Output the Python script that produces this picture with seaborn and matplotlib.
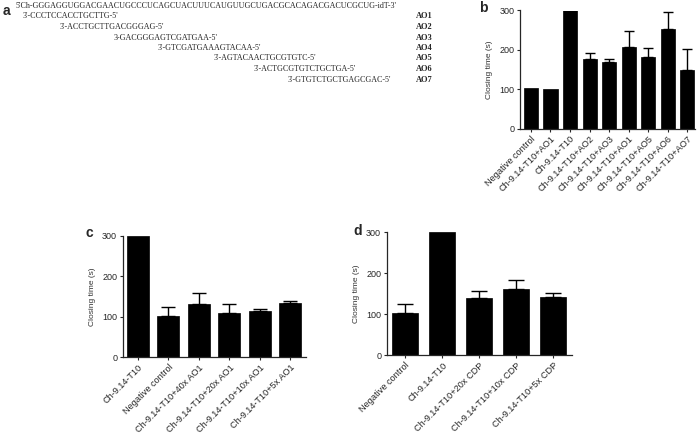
import numpy as np
import pandas as pd
import seaborn as sns
import matplotlib.pyplot as plt

# ---- data ----
seq_target = "5'Ch-GGGAGGUGGACGAACUGCCCUCAGCUACUUUCAUGUUGCUGACGCACAGACGACUCGCUG-idT-3'"
seq_probes = ["3'-CCCTCCACCTGCTTG-5'",
              "3'-ACCTGCTTGACGGGAG-5'",
              "3-GACGGGAGTCGATGAA-5'",
              "3'-GTCGATGAAAGTACAA-5'",
              "3'-AGTACAACTGCGTGTC-5'",
              "3'-ACTGCGTGTCTGCTGA-5'",
              "3'-GTGTCTGCTGAGCGAC-5'"]
probe_names = ["AO1", "AO2", "AO3", "AO4", "AO5", "AO6", "AO7"]

b_labels = ["Negative control", "Ch-9.14-T10+AO1", "Ch-9.14-T10", "Ch-9.14-T10+AO2",
            "Ch-9.14-T10+AO3", "Ch-9.14-T10+AO1", "Ch-9.14-T10+AO5",
            "Ch-9.14-T10+AO6", "Ch-9.14-T10+AO7"]
b_mean = [102, 100, 300, 177, 168, 208, 183, 254, 148]
b_upper = [102, 100, 300, 192, 177, 247, 204, 295, 202]

c_labels = ["Ch-9.14-T10", "Negative control", "Ch-9.14-T10+40x AO1",
            "Ch-9.14-T10+20x AO1", "Ch-9.14-T10+10x AO1", "Ch-9.14-T10+5x AO1"]
c_mean = [300, 101, 131, 110, 113, 133]
c_upper = [300, 123, 158, 131, 118, 138]

d_labels = ["Negative control", "Ch-9.14-T10", "Ch-9.14-T10+20x CDP",
            "Ch-9.14-T10+10x CDP", "Ch-9.14-T10+5x CDP"]
d_mean = [102, 300, 139, 162, 141]
d_upper = [124, 300, 157, 184, 153]

# ---- style ----
sns.set_style("ticks")
plt.rcParams['font.family'] = ['Liberation Sans', 'DejaVu Sans']
plt.rcParams['axes.linewidth'] = 0.9
plt.rcParams['xtick.major.width'] = 0.8
plt.rcParams['ytick.major.width'] = 0.8
plt.rcParams['xtick.major.size'] = 2.5
plt.rcParams['ytick.major.size'] = 2.5
plt.rcParams['xtick.major.pad'] = 1.5
plt.rcParams['ytick.major.pad'] = 1.5

W, H = 700, 438
fig = plt.figure(figsize=(7, 4.38), dpi=100)


def px_axes(left, top, right, bottom):
    return fig.add_axes([left / W, 1 - bottom / H, (right - left) / W, (bottom - top) / H])


def bar_panel(ax, labels, mean, upper, width, xlim, capsize):
    keys = [str(i) for i in range(len(labels))]
    df = pd.DataFrame({"key": keys, "time": mean})
    sns.barplot(data=df, x="key", y="time", order=keys, color="black",
                width=width, errorbar=None, edgecolor="black", linewidth=0.5, ax=ax)
    err = np.array(upper) - np.array(mean)
    has = err > 0
    pos = np.arange(len(labels))
    ax.errorbar(pos[has], np.array(mean)[has], yerr=[np.zeros(has.sum()), err[has]],
                fmt="none", ecolor="black", elinewidth=1.0, capsize=capsize,
                capthick=1.0, clip_on=False)
    ax.set_xlim(*xlim)
    ax.set_ylim(0, 300)
    ax.set_yticks([0, 100, 200, 300])
    ax.tick_params(axis="y", labelsize=6.5)
    ax.set_xticks(pos)
    ax.set_xticklabels(labels, rotation=45, ha="right", rotation_mode="anchor", fontsize=6.6)
    ax.set_xlabel("")
    ax.set_ylabel("Closing time (s)", fontsize=6, color="#333333")
    sns.despine(ax=ax)


# panel b
ax_b = px_axes(520, 10.5, 695, 128.5)
bar_panel(ax_b, b_labels, b_mean, b_upper, 0.72, (-0.56, 8.4), 3.3)
ax_b.yaxis.set_label_coords(-27 / 175, 0.5)

# panel c
ax_c = px_axes(122.7, 235.7, 305.7, 357.3)
bar_panel(ax_c, c_labels, c_mean, c_upper, 0.72, (-0.5, 5.5), 5)
ax_c.yaxis.set_label_coords(-27 / 183, 0.5)

# panel d
ax_d = px_axes(386.7, 232.3, 572, 355.3)
bar_panel(ax_d, d_labels, d_mean, d_upper, 0.70, (-0.5, 4.5), 6)
ax_d.yaxis.set_label_coords(-27 / 185, 0.5)

# panel a: sequences
serif = ['Liberation Serif', 'DejaVu Serif']
line_x = [22.7, 59.3, 113.3, 157.3, 213.3, 254, 287.3]
line_y = [16.5, 27, 38, 48, 58.5, 69, 80]
fig.text(16 / W, 1 - 5.5 / H, seq_target, family=serif, fontsize=5.8, va="center", ha="left")
for s, name, x, y in zip(seq_probes, probe_names, line_x, line_y):
    fig.text(x / W, 1 - y / H, s, family=serif, fontsize=5.8, va="center", ha="left")
    fig.text(416 / W, 1 - y / H, name, family=serif, fontsize=6, fontweight="bold",
             va="center", ha="left")

# panel letters
for letter, x, y in [("a", 3, 11), ("b", 479, 8), ("c", 86, 233), ("d", 353, 231)]:
    fig.text(x / W, 1 - y / H, letter, fontsize=10, fontweight="bold", va="center", ha="left")

fig.savefig("out.png", dpi=100)
